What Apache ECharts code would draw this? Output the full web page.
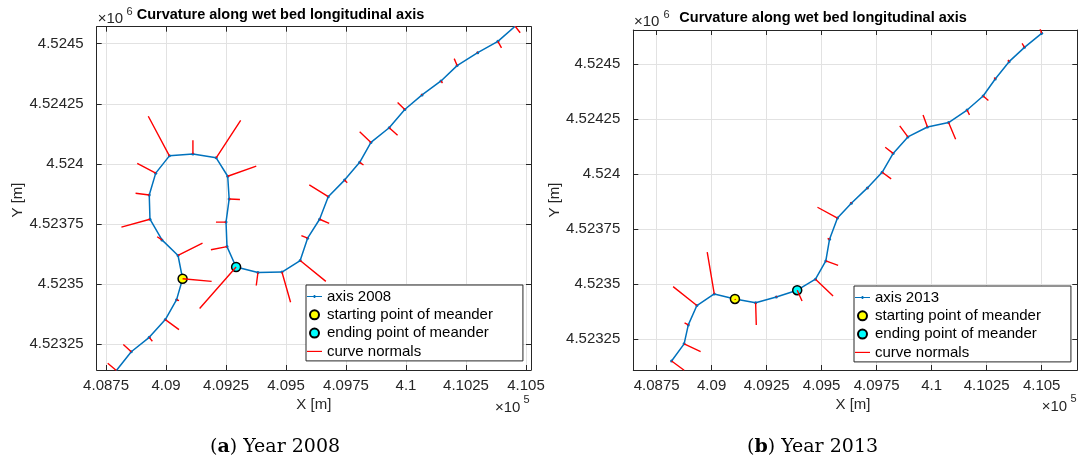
<!DOCTYPE html>
<html><head><meta charset="utf-8">
<script src="https://cdn.jsdelivr.net/npm/echarts@6/dist/echarts.min.js"></script>
<style>html,body{margin:0;padding:0;background:#fff}#c{width:1078px;height:463px}</style>
</head><body><div id="c"></div>
<script>
// ---- tick values / labels ----
const xTickValues = [408750, 409000, 409250, 409500, 409750, 410000, 410250, 410500];
const xTickLabels = ['4.0875', '4.09', '4.0925', '4.095', '4.0975', '4.1', '4.1025', '4.105'];
const yTickValues = [4523250, 4523500, 4523750, 4524000, 4524250, 4524500];
const yTickLabels = ['4.52325', '4.5235', '4.52375', '4.524', '4.52425', '4.5245'];

// ---- 2008 axis (X, Y in m) ----
const axisX2008 = [408793, 408855, 408930, 408997, 409044, 409069, 409050, 408983, 408933, 408930, 408957, 409014, 409112, 409209, 409257, 409263, 409250, 409254, 409292, 409383, 409483, 409559, 409590, 409640, 409676, 409744, 409807, 409854, 409930, 409995, 410067, 410146, 410213, 410299, 410383, 410455];
const axisY2008 = [4523139, 4523217, 4523277, 4523351, 4523434, 4523521, 4523618, 4523683, 4523769, 4523870, 4523961, 4524033, 4524041, 4524025, 4523948, 4523853, 4523757, 4523655, 4523570, 4523547, 4523549, 4523597, 4523690, 4523769, 4523863, 4523932, 4524006, 4524089, 4524150, 4524226, 4524287, 4524345, 4524409, 4524463, 4524510, 4524573];
// curve normal tips 2008
const normX2008 = [408757, 408822, 408943, 409054, 409054, 409190, 409152, 408963, 408814, 408873, 408880, 408926, 409112, 409311, 409376, 409308, 409208, 409187, 409140, 409376, 409519, 409666, 409564, 409680, 409597, 409755, 409823, 409807, 409965, 409965, 410064, 410152, 410201, 410296, 410398, 410476];
const normY2008 = [4523169, 4523247, 4523261, 4523309, 4523430, 4523510, 4523669, 4523696, 4523736, 4523877, 4524002, 4524198, 4524098, 4524181, 4523990, 4523851, 4523757, 4523642, 4523397, 4523493, 4523423, 4523510, 4523701, 4523752, 4523912, 4523921, 4523995, 4524133, 4524119, 4524255, 4524290, 4524336, 4524438, 4524465, 4524483, 4524546];
const start2008 = [409069, 4523521];
const end2008 = [409292, 4523570];

// ---- 2013 axis ----
const axisX2013 = [408818, 408875, 408894, 408933, 409012, 409106, 409200, 409294, 409389, 409472, 409519, 409536, 409572, 409635, 409708, 409775, 409825, 409892, 409981, 410077, 410161, 410234, 410289, 410352, 410422, 410500];
const axisY2013 = [4523151, 4523229, 4523315, 4523403, 4523456, 4523433, 4523416, 4523442, 4523473, 4523523, 4523606, 4523705, 4523801, 4523868, 4523938, 4524009, 4524095, 4524170, 4524215, 4524235, 4524292, 4524356, 4524433, 4524512, 4524577, 4524641];
const normX2013 = [408875, 408950, 408877, 408825, 408980, 409108, 409203, 409296, 409411, 409552, 409575, 409527, 409481, 409633, 409711, 409816, 409789, 409855, 409961, 410109, 410172, 410258, 410285, 410347, 410411, 410492];
const normY2013 = [4523109, 4523194, 4523324, 4523489, 4523646, 4523428, 4523315, 4523446, 4523424, 4523447, 4523586, 4523708, 4523850, 4523873, 4523935, 4523979, 4524123, 4524220, 4524270, 4524159, 4524270, 4524335, 4524440, 4524520, 4524595, 4524664];
const start2013 = [409106, 4523433];
const end2013 = [409389, 4523473];

// ---- axis extents ----
const xRange2008 = [408711, 410521];
const yRange2008 = [4523141, 4524571];
const xRange2013 = [408644, 410662];
const yRange2013 = [4523110, 4524656];

const FONT = 'Liberation Sans';
const DARK = '#262626';

function fmt(values, labels) {
  return function (v) {
    let best = -1, bd = Infinity;
    values.forEach((t, i) => { const d = Math.abs(t - v); if (d < bd) { bd = d; best = i; } });
    return bd < 1 ? labels[best] : '';
  };
}
function xAx(grid, r, pos) {
  const main = pos === 'bottom';
  return {
    type: 'value', gridIndex: grid, min: r[0], max: r[1], position: pos,
    axisLine: { show: true, onZero: false, lineStyle: { color: DARK, width: 1 } },
    axisTick: { show: true, inside: true, length: 5, customValues: xTickValues, lineStyle: { color: DARK, width: 1 } },
    axisLabel: { show: main, customValues: xTickValues, formatter: fmt(xTickValues, xTickLabels), margin: 8,
      color: DARK, fontFamily: FONT, fontSize: 15 },
    splitLine: { show: main, lineStyle: { color: '#e2e2e2', width: 1 } }
  };
}
function yAx(grid, r, pos) {
  const main = pos === 'left';
  return {
    type: 'value', gridIndex: grid, min: r[0], max: r[1], position: pos,
    axisLine: { show: true, onZero: false, lineStyle: { color: DARK, width: 1 } },
    axisTick: { show: true, inside: true, length: 5, customValues: yTickValues, lineStyle: { color: DARK, width: 1 } },
    axisLabel: { show: main, customValues: yTickValues, formatter: fmt(yTickValues, yTickLabels), margin: 13,
      color: DARK, fontFamily: FONT, fontSize: 15 },
    splitLine: { show: main, lineStyle: { color: '#e2e2e2', width: 1 } }
  };
}
function pairs(xs, ys) { return xs.map((x, i) => [x, ys[i]]); }
function normals(ax, ay, nx, ny) {
  const d = [];
  ax.forEach((x, i) => { d.push([x, ay[i]], [nx[i], ny[i]], ['-', '-']); });
  return d;
}
function seriesFor(idx, name, ax, ay, nx, ny, st, en) {
  return [
    { name: name, type: 'line', xAxisIndex: idx, yAxisIndex: idx, data: pairs(ax, ay),
      symbol: 'circle', symbolSize: 3, showSymbol: true, showAllSymbol: true,
      lineStyle: { color: '#0072BD', width: 1.5 }, itemStyle: { color: '#0072BD', borderWidth: 0 }, z: 2 },
    { name: 'starting point of meander', type: 'scatter', xAxisIndex: idx, yAxisIndex: idx, data: [st],
      symbol: 'circle', symbolSize: 9, itemStyle: { color: '#FFFF00', borderColor: '#000', borderWidth: 1.5, opacity: 1 }, z: 3 },
    { name: 'ending point of meander', type: 'scatter', xAxisIndex: idx, yAxisIndex: idx, data: [en],
      symbol: 'circle', symbolSize: 9, itemStyle: { color: '#00FFFF', borderColor: '#000', borderWidth: 1.5, opacity: 1 }, z: 3 },
    { name: 'curve normals', type: 'line', xAxisIndex: idx, yAxisIndex: idx, data: normals(ax, ay, nx, ny),
      symbol: 'none', connectNulls: false, lineStyle: { color: '#FF0000', width: 1.4 }, itemStyle: { color: '#FF0000' }, z: 4 }
  ];
}
const axisIcon = 'path://M0,1.2H18V2.4H0Z M8,0H10V3.6H8Z';
const normIcon = 'path://M0,0H18V1.4H0Z';
function legendFor(name, left, top) {
  return {
    orient: 'vertical', left: left, top: top, itemWidth: 15, itemHeight: 9, itemGap: 3.3,
    padding: [4, 30, 2, 1], borderColor: DARK, borderWidth: 1, backgroundColor: '#fff',
    selectedMode: false, symbolKeepAspect: true,
    textStyle: { color: '#000', fontFamily: FONT, fontSize: 15, lineHeight: 15 },
    data: [{ name: name, icon: axisIcon }, 'starting point of meander', 'ending point of meander',
      { name: 'curve normals', icon: normIcon, itemStyle: { color: '#FF0000', borderWidth: 0 } }]
  };
}
function txt(x, y, text, size, opts) {
  opts = opts || {};
  return { type: 'text', x: x, y: y, rotation: opts.rot || 0, z: 100, silent: true,
    style: { text: text, fontFamily: opts.family || FONT, fontSize: size, fontWeight: opts.weight || 'normal',
      fill: opts.fill || DARK, align: opts.align || 'left', verticalAlign: 'middle',
      textAlign: opts.align || 'left', textVerticalAlign: 'middle', rich: opts.rich } };
}
const capRich = { p: { fontFamily: 'DejaVu Serif', fontSize: 19, fill: '#000' }, b: { fontFamily: 'DejaVu Serif', fontSize: 19, fontWeight: 'bold', fill: '#000' } };

const chart = echarts.init(document.getElementById('c'), null, { renderer: 'canvas' });
chart.setOption({
  animation: false,
  backgroundColor: '#fff',
  grid: [
    { left: 96.7, top: 26.7, width: 434.3, height: 343.3, outerBoundsMode: 'none', containLabel: false },
    { left: 633.3, top: 30, width: 444, height: 340, outerBoundsMode: 'none', containLabel: false }
  ],
  xAxis: [xAx(0, xRange2008, 'bottom'), xAx(0, xRange2008, 'top'), xAx(1, xRange2013, 'bottom'), xAx(1, xRange2013, 'top')],
  yAxis: [yAx(0, yRange2008, 'left'), yAx(0, yRange2008, 'right'), yAx(1, yRange2013, 'left'), yAx(1, yRange2013, 'right')],
  legend: [legendFor('axis 2008', 306, 285), legendFor('axis 2013', 854, 286)],
  series: [].concat(
    seriesFor(0, 'axis 2008', axisX2008, axisY2008, normX2008, normY2008, start2008, end2008),
    seriesFor(2, 'axis 2013', axisX2013, axisY2013, normX2013, normY2013, start2013, end2013)
  ),
  graphic: [
    txt(136.7, 15, 'Curvature along wet bed longitudinal axis', 14.5, { weight: 'bold', fill: '#000' }),
    txt(679.3, 18.3, 'Curvature along wet bed longitudinal axis', 14.5, { weight: 'bold', fill: '#000' }),
    txt(97.7, 19, '\u00d710', 15),
    txt(126.5, 11.7, '6', 11),
    txt(634, 21.7, '\u00d710', 15),
    txt(663.5, 15, '6', 11),
    txt(495, 408.3, '\u00d710', 15),
    txt(523.5, 400, '5', 11),
    txt(1041.7, 407.3, '\u00d710', 15),
    txt(1070.5, 399.3, '5', 11),
    txt(313.8, 405, 'X [m]', 15, { align: 'center' }),
    txt(853, 405, 'X [m]', 15, { align: 'center' }),
    txt(18.3, 200, 'Y [m]', 15, { align: 'center', rot: Math.PI / 2 }),
    txt(555, 200, 'Y [m]', 15, { align: 'center', rot: Math.PI / 2 }),
    txt(210, 447.5, '{p|(}{b|a}{p|) Year 2008}', 19, { family: 'DejaVu Serif', fill: '#000', rich: capRich }),
    txt(747, 447.5, '{p|(}{b|b}{p|) Year 2013}', 19, { family: 'DejaVu Serif', fill: '#000', rich: capRich })
  ]
});
</script></body></html>
